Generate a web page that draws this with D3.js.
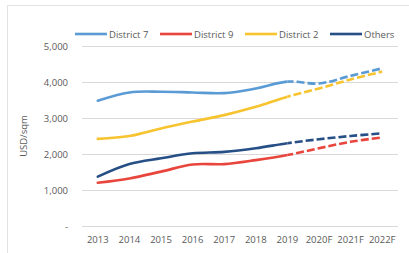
<!DOCTYPE html>
<html>
<head>
<meta charset="utf-8">
<script src="https://cdn.jsdelivr.net/npm/d3@7"></script>
<style>
  body { margin: 0; background: #fff; }
  text { font-family: "Open Sans", "Liberation Sans", sans-serif; fill: #595959; }
</style>
</head>
<body>
<svg id="chart"></svg>
<script>
const years = ['2013', '2014', '2015', '2016', '2017', '2018', '2019', '2020F', '2021F', '2022F']
const district7 = [3480, 3710, 3730, 3710, 3690, 3820, 4010, 3960, 4170, 4380]
const district9 = [1200, 1320, 1510, 1710, 1720, 1830, 1970, 2160, 2340, 2460]
const district2 = [2420, 2500, 2710, 2900, 3080, 3310, 3590, 3820, 4070, 4290]
const others = [1370, 1720, 1880, 2020, 2060, 2160, 2300, 2410, 2500, 2575]
const yTicks = [0, 1000, 2000, 3000, 4000, 5000]
const forecastFrom = '2019'

const series = [
    {name: 'District 7', values: district7, color: '#5b9bd5'},
    {name: 'District 9', values: district9, color: '#e8453c'},
    {name: 'District 2', values: district2, color: '#f7c430'},
    {name: 'Others', values: others, color: '#264f86'}
]

const W = 409, H = 253
const margin = {top: 46, right: 11, bottom: 27, left: 82}
const width = W - margin.left - margin.right
const height = H - margin.top - margin.bottom
const fontSize = '9.5px'

const svg = d3.select('#chart').attr('width', W).attr('height', H)

// outer frame of the chart area
svg.append('rect')
    .attr('x', 7.5).attr('y', 5.5)
    .attr('width', W).attr('height', H)
    .attr('fill', 'none')
    .attr('stroke', '#e3e3e3')

const x = d3.scaleBand().domain(years).range([0, width])
const y = d3.scaleLinear().domain([0, 5000]).range([height, 0])
const cx = d => x(d) + x.bandwidth() / 2

const g = svg.append('g').attr('transform', 'translate(' + margin.left + ',' + margin.top + ')')

// grid lines
g.selectAll('.grid')
    .data(yTicks)
    .enter().append('line')
    .attr('x1', 0).attr('x2', width)
    .attr('y1', d => Math.round(y(d)) + 0.5).attr('y2', d => Math.round(y(d)) + 0.5)
    .attr('stroke', '#d9d9d9')

// y axis labels
g.append('g')
    .call(d3.axisLeft(y).tickValues(yTicks).tickSize(0).tickPadding(14)
        .tickFormat(d => d === 0 ? '-' : d3.format(',')(d)))
    .call(a => a.select('.domain').remove())
    .selectAll('text')
    .style('font-size', fontSize)
    .style('fill', '#595959')

// x axis labels
g.append('g')
    .attr('transform', 'translate(0,' + height + ')')
    .call(d3.axisBottom(x).tickSize(0).tickPadding(10))
    .call(a => a.select('.domain').remove())
    .selectAll('text')
    .style('font-size', fontSize)
    .style('fill', '#595959')

// axis title
svg.append('text')
    .attr('transform', 'translate(27,' + (margin.top + height / 2) + ') rotate(-90)')
    .attr('text-anchor', 'middle')
    .style('font-size', fontSize)
    .text('USD/sqm')

// clips to split actual vs forecast
const splitX = cx(forecastFrom)
const defs = svg.append('defs')
defs.append('clipPath').attr('id', 'clip-actual')
    .append('rect').attr('x', -10).attr('y', -20).attr('width', splitX + 10).attr('height', height + 40)
defs.append('clipPath').attr('id', 'clip-forecast')
    .append('rect').attr('x', splitX).attr('y', -20).attr('width', width - splitX + 10).attr('height', height + 40)

const line = d3.line()
    .x((d, i) => cx(years[i]))
    .y(d => y(d))
    .curve(d3.curveCatmullRom.alpha(0.5))

series.forEach(s => {
    g.append('path')
        .datum(s.values)
        .attr('clip-path', 'url(#clip-actual)')
        .attr('fill', 'none')
        .attr('stroke', s.color)
        .attr('stroke-width', 2.6)
        .attr('stroke-linecap', 'round')
        .attr('d', line)
    g.append('path')
        .datum(s.values)
        .attr('clip-path', 'url(#clip-forecast)')
        .attr('fill', 'none')
        .attr('stroke', s.color)
        .attr('stroke-width', 2.6)
        .attr('stroke-dasharray', '8,3')
        .attr('stroke-dashoffset', -190)
        .attr('d', line)
})

// legend
const legendX = [75, 160, 245, 330]
const legend = svg.append('g').attr('transform', 'translate(0,34)')
series.forEach((s, i) => {
    legend.append('line')
        .attr('x1', legendX[i]).attr('x2', legendX[i] + 32)
        .attr('y1', 0).attr('y2', 0)
        .attr('stroke', s.color)
        .attr('stroke-width', 2.6)
    legend.append('text')
        .attr('x', legendX[i] + 34)
        .attr('y', 3.5)
        .style('font-size', fontSize)
        .text(s.name)
})
</script>
</body>
</html>
